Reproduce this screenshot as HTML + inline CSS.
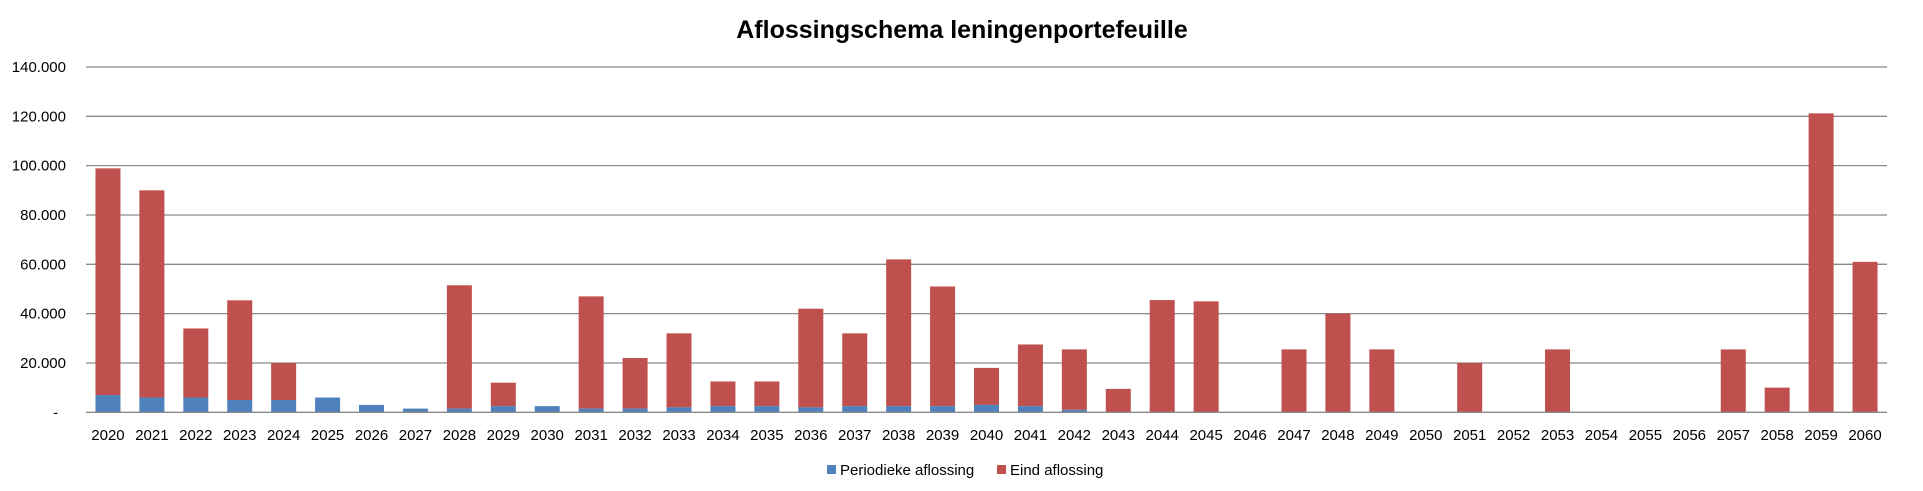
<!DOCTYPE html>
<html><head><meta charset="utf-8"><style>
html,body{margin:0;padding:0;background:#fff;}
svg{display:block;font-family:"Liberation Sans",sans-serif;}
</style></head><body>
<svg id="c" width="1923" height="491" xmlns="http://www.w3.org/2000/svg">
<text x="962" y="38" text-anchor="middle" font-size="25" font-weight="bold" fill="#000">Aflossingschema leningenportefeuille</text>
</svg>
<script>
const s=document.getElementById('c');const NS='http://www.w3.org/2000/svg';
function el(t,a,txt){const e=document.createElementNS(NS,t);for(const k in a)e.setAttribute(k,a[k]);if(txt!==undefined)e.textContent=txt;s.appendChild(e);return e;}
const y0=412.3,pp=49.33/20000,x0=86,x1=1887,step=(x1-x0)/41,bw=25;
for(let i=1;i<=7;i++){const y=y0-i*20000*pp;el('line',{x1:x0,x2:x1,y1:y,y2:y,stroke:'#8a8a8a','stroke-width':1.3});
el('text',{x:66,y:y+5,'text-anchor':'end','font-size':15,fill:'#000'},(i*20)+'.000');}
el('text',{x:58,y:y0+5,'text-anchor':'end','font-size':15,fill:'#000'},'-');
const tot={2020:98900,2021:90000,2022:34000,2023:45400,2024:20000,2025:6000,2026:3000,2027:1500,2028:51500,2029:12000,2030:2500,2031:47000,2032:22000,2033:32000,2034:12500,2035:12500,2036:42000,2037:32000,2038:62000,2039:51000,2040:18000,2041:27500,2042:25500,2043:9500,2044:45500,2045:45000,2047:25500,2048:40000,2049:25500,2051:20000,2053:25500,2057:25500,2058:10000,2059:121200,2060:61000};
const blue={2020:7000,2021:6000,2022:6000,2023:5000,2024:5000,2025:6000,2026:3000,2027:1500,2028:1500,2029:2500,2030:2500,2031:1500,2032:1500,2033:2000,2034:2500,2035:2500,2036:2000,2037:2500,2038:2500,2039:2500,2040:3000,2041:2500,2042:1000};
for(let i=0;i<41;i++){const yr=2020+i,cx=x0+step*(i+0.5);const t=tot[yr]||0,b=blue[yr]||0;
if(t>b)el('rect',{x:cx-bw/2,y:y0-t*pp,width:bw,height:(t-b)*pp,fill:'#C0504D'});
if(b>0)el('rect',{x:cx-bw/2,y:y0-b*pp,width:bw,height:b*pp,fill:'#4F81BD'});
el('text',{x:cx,y:440,'text-anchor':'middle','font-size':15,fill:'#000'},yr);}
el('line',{x1:x0,x2:x1,y1:y0,y2:y0,stroke:'#8a8a8a','stroke-width':1.3});
el('rect',{x:827,y:465,width:9,height:9,fill:'#4F81BD'});
el('text',{x:840,y:475,'font-size':15,fill:'#000'},'Periodieke aflossing');
el('rect',{x:997,y:465,width:9,height:9,fill:'#C0504D'});
el('text',{x:1010,y:475,'font-size':15,fill:'#000'},'Eind aflossing');
</script>
</body></html>
